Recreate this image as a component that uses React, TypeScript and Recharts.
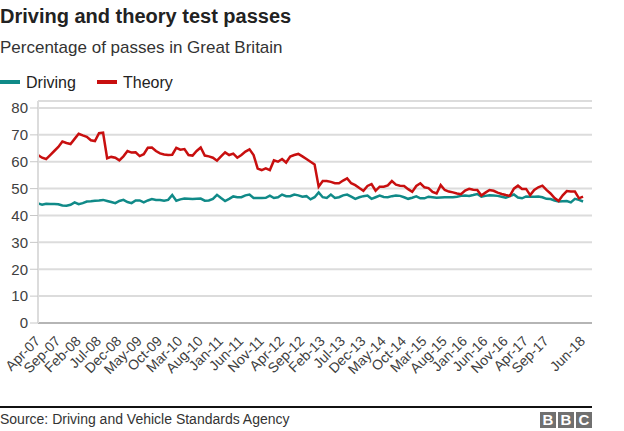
import { LineChart, Line, XAxis, YAxis, CartesianGrid } from 'recharts'

const FONT = '"Liberation Sans", Arial, Helvetica, sans-serif'
const TEAL = '#108a88'
const RED = '#c80f0f'

// monthly categories, Apr-07 .. Jun-18
const monthNames = ['Jan', 'Feb', 'Mar', 'Apr', 'May', 'Jun', 'Jul', 'Aug', 'Sep', 'Oct', 'Nov', 'Dec']
const months = Array.from({ length: 135 }, (_, k) => {
  const m = (3 + k) % 12
  const y = 7 + Math.floor((3 + k) / 12)
  return `${monthNames[m]}-${String(y).padStart(2, '0')}`
})

const tickLabels = [
  'Apr-07', 'Sep-07', 'Feb-08', 'Jul-08', 'Dec-08', 'May-09', 'Oct-09', 'Mar-10', 'Aug-10',
  'Jan-11', 'Jun-11', 'Nov-11', 'Apr-12', 'Sep-12', 'Feb-13', 'Jul-13', 'Dec-13', 'May-14',
  'Oct-14', 'Mar-15', 'Aug-15', 'Jan-16', 'Jun-16', 'Nov-16', 'Apr-17', 'Sep-17', 'Jun-18',
]

const yTicks = [0, 10, 20, 30, 40, 50, 60, 70, 80]

// % of practical driving tests passed
const driving = [
  44.5, 44, 44.4, 44.3, 44.3, 44.2, 43.7, 43.6, 44, 44.9, 44.2, 44.6,
  45.2, 45.3, 45.5, 45.6, 45.8, 45.4, 45, 44.6, 45.4, 45.8, 45, 44.6,
  45.6, 45.6, 44.9, 45.6, 46.1, 45.8, 45.8, 45.5, 45.8, 47.6, 45.5, 46,
  46.3, 46.2, 46.1, 46.2, 46.3, 45.5, 45.6, 46.2, 47.7, 46.5, 45.4, 46.2,
  47.1, 46.8, 46.8, 47.5, 47.8, 46.5, 46.5, 46.5, 46.6, 47.4, 46.5, 46.8,
  47.8, 47.2, 47.2, 47.8, 47.5, 47, 47.2, 46, 46.8, 48.6, 46.8, 46.5,
  47.8, 46.5, 46.8, 47.5, 47.8, 47, 46.2, 46.8, 47.2, 47.4, 46.2, 46.8,
  47.4, 46.9, 46.8, 47.2, 47.4, 47.3, 46.8, 46.2, 46.6, 47.1, 46.4, 46.4,
  47, 46.8, 46.6, 46.7, 46.8, 46.8, 46.8, 47, 47.3, 47.4, 47.3, 47.6,
  48, 47, 47.3, 47.5, 47.4, 47.3, 47, 46.6, 47.2, 47.8, 46.7, 46.4,
  47.1, 47, 47, 47.1, 46.8, 46.2, 46.1, 45.6, 45.2, 45.3, 45.4, 44.9,
  46.2, 45.8, 45.2,
]

// % of theory tests passed
const theory = [
  62.5, 61.5, 61, 62.5, 64, 65.5, 67.5, 67, 66.6, 68.5, 70.4, 69.8,
  69.3, 68, 67.7, 70.6, 70.8, 61.3, 61.8, 61.5, 60.5, 62, 64, 63.4,
  63.5, 62.1, 62.8, 65.2, 65.3, 64, 63.1, 62.7, 62.5, 62.6, 65.2, 64.5,
  64.7, 62.5, 62.3, 64, 65.3, 62.3, 62, 61.5, 60.4, 62, 63.5, 62.5,
  63, 61.5, 62.5, 63.8, 64.6, 62.5, 57.5, 56.9, 57.5, 56.9, 60.5, 60,
  61, 59.7, 61.9, 62.5, 62.9, 62, 61, 60, 59, 50.7, 52.8, 52.8,
  52.5, 52, 52, 53, 53.8, 52, 51.3, 50.2, 49.2, 51, 51.7, 49.2,
  50.7, 50.7, 51.2, 52.8, 51.5, 51.1, 51, 49.8, 48.8, 51, 52, 50.5,
  50.2, 48.8, 48.2, 51.3, 49.5, 48.9, 48.6, 48.2, 47.9, 49.3, 49.9, 49.6,
  49.5, 47.4, 48.5, 49.5, 49.2, 48.5, 48, 47.6, 47.3, 50, 51.1, 49.9,
  49.9, 47.6, 49.5, 50.5, 51.1, 49.5, 48.2, 46.5, 45.4, 47.5, 49.1, 48.9,
  48.9, 46.4, 47,
]

const data = months.map((month, i) => ({ i, month, driving: driving[i], theory: theory[i] }))
const xTicks = tickLabels.map((l) => months.indexOf(l))

const XTick = ({ x, y, payload }: any) => {
  const tx = x + 3
  const ty = y + 19
  return (
    <text x={tx} y={ty} transform={`rotate(-45, ${tx}, ${ty})`} textAnchor="end"
      fontSize={14} fontFamily={FONT} fill="#404040">
      {months[payload.value]}
    </text>
  )
}

export default function App() {
  return (
    <div style={{ position: 'absolute', left: 0, top: 0, width: 624, height: 431, background: '#fff', fontFamily: FONT }}>
      <div style={{ position: 'absolute', left: 0, top: 6, fontSize: 20, lineHeight: '20px', fontWeight: 700, color: '#222', whiteSpace: 'nowrap' }}>
        Driving and theory test passes
      </div>
      <div style={{ position: 'absolute', left: 0, top: 39, fontSize: 17, lineHeight: '17px', color: '#333', whiteSpace: 'nowrap' }}>
        Percentage of passes in Great Britain
      </div>
      <div style={{ position: 'absolute', left: 0, top: 80, width: 20, height: 4, background: TEAL }} />
      <div style={{ position: 'absolute', left: 26, top: 75, fontSize: 16, lineHeight: '16px', color: '#222' }}>Driving</div>
      <div style={{ position: 'absolute', left: 97, top: 80, width: 20, height: 4, background: RED }} />
      <div style={{ position: 'absolute', left: 123, top: 75, fontSize: 16, lineHeight: '16px', color: '#222' }}>Theory</div>

      <div style={{ position: 'absolute', left: 0, top: 90 }}>
        <LineChart width={624} height={320} data={data} margin={{ top: 11, right: 32, bottom: 0, left: 0 }}>
          <CartesianGrid vertical={false} stroke="#dcdcdc" strokeWidth={2} />
          <XAxis
            dataKey="i"
            type="number"
            domain={[0, 136.2]}
            ticks={xTicks}
            interval={0}
            height={87}
            tickSize={0}
            tickMargin={0}
            tick={<XTick />}
            axisLine={{ stroke: '#a8a8a8', strokeWidth: 1.5 }}
            tickLine={false}
          />
          <YAxis
            type="number"
            domain={[0, 82.6]}
            ticks={yTicks}
            interval={0}
            width={38}
            tickSize={8}
            tick={{ fontSize: 15, fontFamily: FONT, fill: '#404040' }}
            axisLine={{ stroke: '#dcdcdc', strokeWidth: 2 }}
            tickLine={{ stroke: '#c8c8c8' }}
          />
          <Line type="linear" dataKey="driving" stroke={TEAL} strokeWidth={2.5} dot={false} activeDot={false} isAnimationActive={false} />
          <Line type="linear" dataKey="theory" stroke={RED} strokeWidth={2.5} dot={false} activeDot={false} isAnimationActive={false} />
        </LineChart>
      </div>

      <div style={{ position: 'absolute', left: 0, top: 406, width: 592, height: 1.5, background: '#111' }} />
      <div style={{ position: 'absolute', left: 0, top: 412, fontSize: 14, lineHeight: '14px', color: '#333', whiteSpace: 'nowrap' }}>
        Source: Driving and Vehicle Standards Agency
      </div>
      {['B', 'B', 'C'].map((ch, k) => (
        <div key={k} style={{
          position: 'absolute', left: 540 + k * 18, top: 412, width: 16, height: 16, background: '#707070',
          color: '#fff', fontWeight: 700, fontSize: 15, lineHeight: '16px', textAlign: 'center',
        }}>{ch}</div>
      ))}
    </div>
  )
}
